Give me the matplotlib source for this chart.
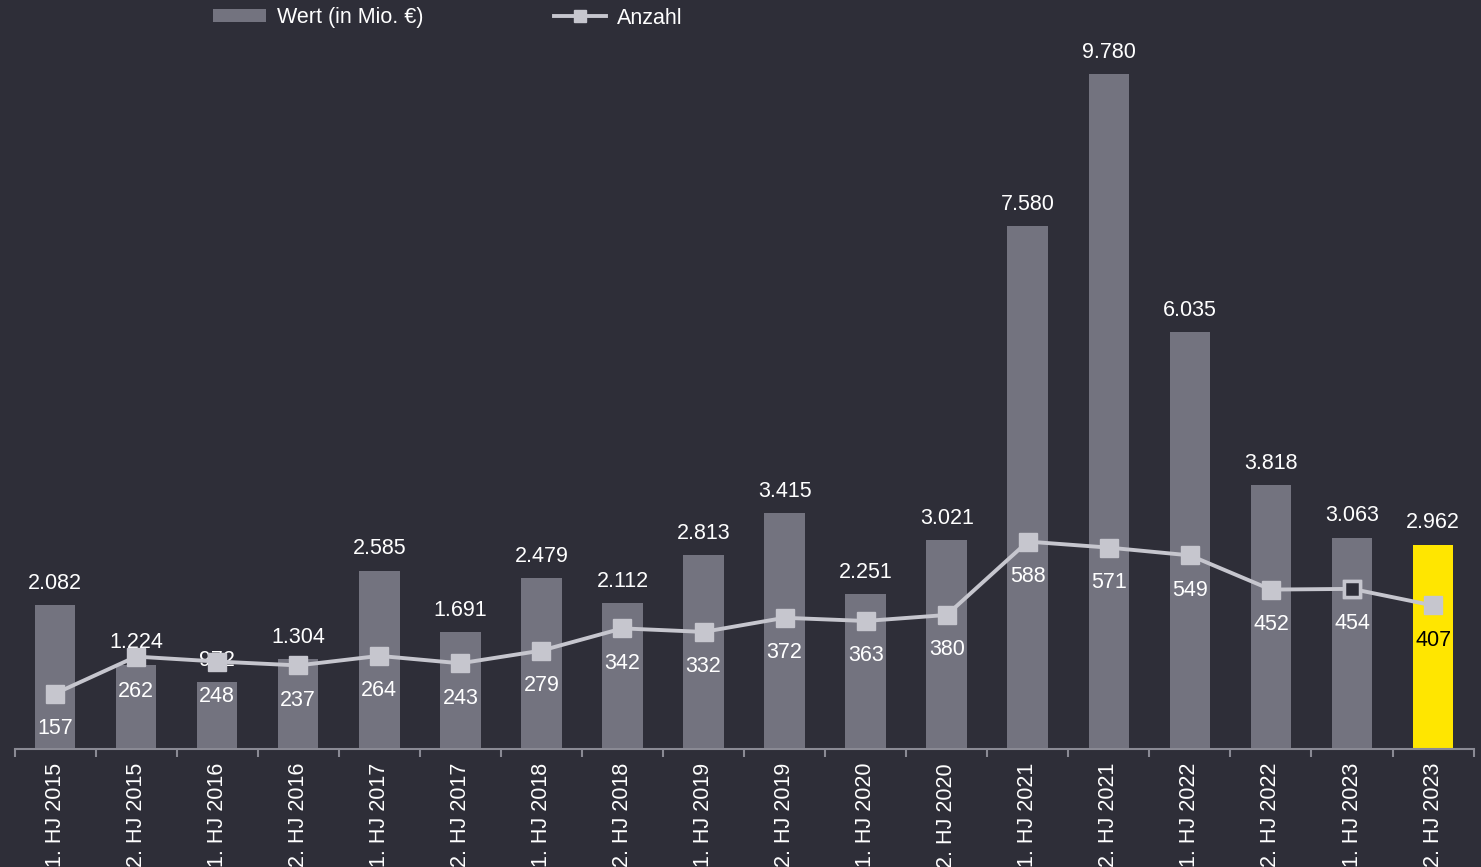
import numpy as np
import matplotlib.pyplot as plt
from matplotlib.lines import Line2D

plt.rcParams['font.family'] = ['Liberation Sans', 'DejaVu Sans']

# data
categories = ['1. HJ 2015', '2. HJ 2015', '1. HJ 2016', '2. HJ 2016', '1. HJ 2017', '2. HJ 2017',
              '1. HJ 2018', '2. HJ 2018', '1. HJ 2019', '2. HJ 2019', '1. HJ 2020', '2. HJ 2020',
              '1. HJ 2021', '2. HJ 2021', '1. HJ 2022', '2. HJ 2022', '1. HJ 2023', '2. HJ 2023']
wert = [2082, 1224, 972, 1304, 2585, 1691, 2479, 2112, 2813, 3415, 2251, 3021,
        7580, 9780, 6035, 3818, 3063, 2962]
anzahl = [157, 262, 248, 237, 264, 243, 279, 342, 332, 372, 363, 380,
          588, 571, 549, 452, 454, 407]

BG = '#2e2e38'
BAR = '#73737f'
YELLOW = '#ffe600'
LINE = '#c6c6ce'
AXIS = '#8a8a94'
FS = 15.5

W, H = 1481, 867
fig = plt.figure(figsize=(W / 100, H / 100), dpi=100, facecolor=BG)
left, right, bottom, top = 14.5, 1473.6, 749, 40
ax = fig.add_axes([left / W, 1 - bottom / H, (right - left) / W, (bottom - top) / H])
ax.set_facecolor(BG)

x = np.arange(len(categories))
colors = [BAR] * (len(categories) - 1) + [YELLOW]
bars = ax.bar(x, wert, width=0.5, color=colors, zorder=1, label='Wert (in Mio. €)')
ax.set_xlim(-0.5, len(categories) - 0.5)
ax.set_ylim(0, 9780 * (bottom - top) / 675)

for xi, v in zip(x, wert):
    s = f'{v:,}'.replace(',', '.')
    ax.annotate(s, (xi, v), xytext=(0, 8), textcoords='offset points',
                ha='center', va='bottom', color='white', fontsize=FS, zorder=5)

ax2 = ax.twinx()
ax2.set_ylim(0, (bottom - top) / 0.3527)
ax2.plot(x, anzahl, color=LINE, lw=2.8, marker='s', markersize=13,
         markerfacecolor=LINE, markeredgecolor=LINE, zorder=3)
# hollow marker for 1. HJ 2023
ax2.plot(x[16], anzahl[16], marker='s', markersize=11, markerfacecolor=BG,
         markeredgecolor=LINE, markeredgewidth=2.5, linestyle='none', zorder=4)

for i, (xi, v) in enumerate(zip(x, anzahl)):
    c = 'black' if i == len(anzahl) - 1 else 'white'
    ax2.annotate(str(v), (xi, v), xytext=(0, -25), textcoords='offset points',
                 ha='center', va='center', color=c, fontsize=FS, zorder=5)

for a in (ax, ax2):
    for sp in a.spines.values():
        sp.set_visible(False)
    a.set_yticks([])
ax.spines['bottom'].set_visible(True)
ax.spines['bottom'].set_color(AXIS)
ax.spines['bottom'].set_linewidth(1.5)

ax.set_xticks(x)
ax.set_xticklabels(categories, rotation=90, color='white', fontsize=FS, va='top')
ax.tick_params(axis='x', which='major', length=0, pad=10)
ax.set_xticks(np.arange(-0.5, len(categories), 1), minor=True)
ax.tick_params(axis='x', which='minor', length=6, color=AXIS, width=1.5)

line_handle = Line2D([], [], color=LINE, lw=2.8, marker='s', markersize=9,
                     markerfacecolor=LINE, markeredgecolor=LINE)
fig.legend(handles=[bars, line_handle], labels=['Wert (in Mio. €)', 'Anzahl'],
           loc='center left', bbox_to_anchor=(194 / W, 1 - 18 / H), ncol=2,
           frameon=False, fontsize=FS, labelcolor='white', handlelength=2.45,
           handleheight=0.55, columnspacing=6.05, handletextpad=0.5)

fig.savefig('out.png', dpi=100, facecolor=BG)
